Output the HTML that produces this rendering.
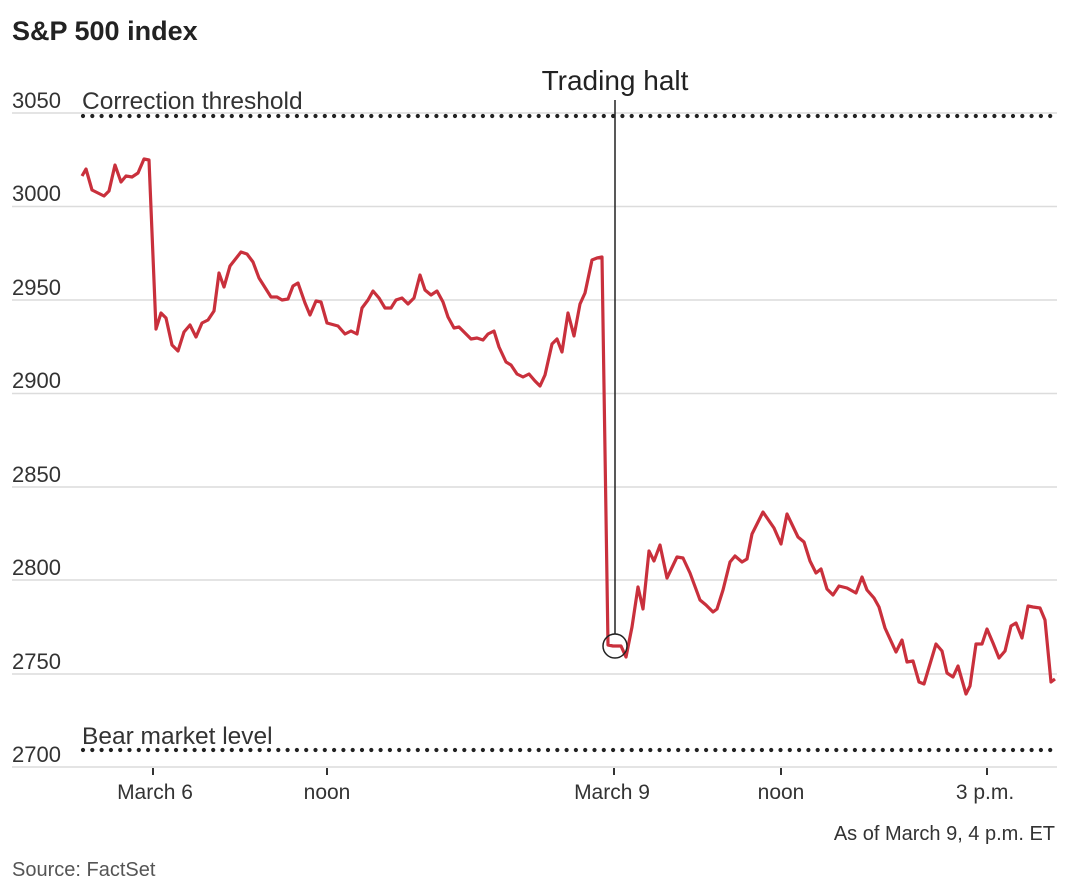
<!DOCTYPE html>
<html><head><meta charset="utf-8"><style>
body{margin:0;background:#fff;}
svg{display:block;font-family:"Liberation Sans",sans-serif;}
</style></head><body>
<svg width="1080" height="888" viewBox="0 0 1080 888" xmlns="http://www.w3.org/2000/svg">
<text x="12" y="40" font-size="27" font-weight="bold" fill="#222">S&amp;P 500 index</text>
<g stroke="#dcdcdc" stroke-width="1.5">
<line x1="12" x2="1057" y1="113" y2="113"/>
<line x1="12" x2="1057" y1="206.5" y2="206.5"/>
<line x1="12" x2="1057" y1="300" y2="300"/>
<line x1="12" x2="1057" y1="393.5" y2="393.5"/>
<line x1="12" x2="1057" y1="487" y2="487"/>
<line x1="12" x2="1057" y1="580" y2="580"/>
<line x1="12" x2="1057" y1="674" y2="674"/>
<line x1="12" x2="1057" y1="767" y2="767"/>
</g>
<g font-size="22" fill="#333">
<text x="12" y="108">3050</text>
<text x="12" y="201">3000</text>
<text x="12" y="295">2950</text>
<text x="12" y="388">2900</text>
<text x="12" y="482">2850</text>
<text x="12" y="575">2800</text>
<text x="12" y="669">2750</text>
<text x="12" y="762">2700</text>
</g>
<g font-size="24.5" fill="#333">
<text x="82" y="109">Correction threshold</text>
<text x="82" y="744">Bear market level</text>
</g>
<g stroke="#222" stroke-width="4.2" stroke-linecap="round" stroke-dasharray="0 9.3">
<line x1="83" x2="1052" y1="116" y2="116"/>
<line x1="83" x2="1052" y1="750" y2="750"/>
</g>
<line x1="615" x2="615" y1="100" y2="634" stroke="#222" stroke-width="1.5"/>
<text x="615" y="90" font-size="28" fill="#222" text-anchor="middle">Trading halt</text>
<polyline fill="none" stroke="#c9303c" stroke-width="3.2" stroke-linejoin="round" points="82,176 86,169 92,190 104,196 109,191 115,165 121,182 126,176 132,177 138,173 144,159 149,160 156,329 161,313 166,318 172,345 178,351 184,332 190,325 196,337 202,323 208,320 214,311 219,273 224,287 230,266 241,252 247,254 253,262 259,278 271,297 277,297 282,300 288,299 293,286 298,283 305,303 310,315 316,301 321,302 327,323 338,326 345,334 351,331 357,334 362,308 368,300 373,291 379,298 385,308 391,308 396,300 402,298 408,304 414,298 420,275 425,290 431,295 437,291 443,302 448,317 454,328 459,327 465,333 471,339 477,338 483,340 488,334 494,331 499,347 506,362 511,365 517,374 523,377 529,374 535,381 540,386 545,375 552,344 557,339 562,352 568,313 574,336 580,304 585,293 592,260 597,258 602,257 608,645 613,646 621,646 626,657 632,627 638,587 643,609 649,551 654,561 660,545 667,578 677,557 683,558 690,573 700,600 706,605 713,612 717,609 723,590 730,562 735,556 742,562 747,559 752,534 763,512 774,528 781,544 787,514 798,537 804,542 810,561 816,573 821,569 827,589 833,595 839,586 847,588 856,593 862,577 867,590 874,598 879,607 885,628 896,652 902,640 907,662 913,661 919,682 924,684 936,644 942,651 947,673 953,677 958,666 966,694 970,686 976,644 982,644 987,629 993,643 999,658 1005,651 1011,626 1016,623 1022,638 1028,606 1033,607 1040,608 1045,620 1051,682 1055,679"/>
<circle cx="615" cy="646" r="12" fill="none" stroke="#222" stroke-width="1.5"/>
<g stroke="#333" stroke-width="2">
<line x1="153" x2="153" y1="768" y2="775"/>
<line x1="327" x2="327" y1="768" y2="775"/>
<line x1="614" x2="614" y1="768" y2="775"/>
<line x1="781" x2="781" y1="768" y2="775"/>
<line x1="987" x2="987" y1="768" y2="775"/>
</g>
<g font-size="21" fill="#333" text-anchor="middle">
<text x="155" y="799">March 6</text>
<text x="327" y="799">noon</text>
<text x="612" y="799">March 9</text>
<text x="781" y="799">noon</text>
<text x="985" y="799">3 p.m.</text>
</g>
<text x="1055" y="840" font-size="20" fill="#333" text-anchor="end">As of March 9, 4 p.m. ET</text>
<text x="12" y="876" font-size="20" fill="#555">Source: FactSet</text>
</svg>
</body></html>
